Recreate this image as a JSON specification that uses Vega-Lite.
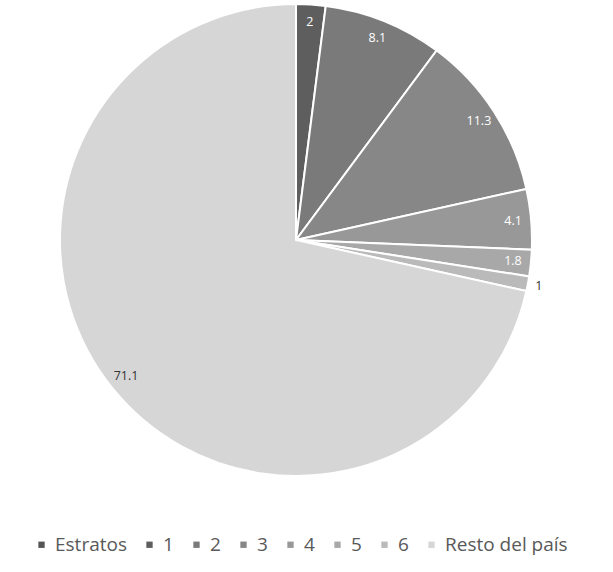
{
  "$schema": "https://vega.github.io/schema/vega-lite/v6.json",
  "autosize": {"type": "pad"},
  "padding": {"left": 0, "top": 0, "right": 0, "bottom": 20},
  "width": 592,
  "height": 478,
  "background": "white",
  "data": {"values": [
    {"cat": "Estratos", "ord": 0, "v": 0, "lab": ""},
    {"cat": "1", "ord": 1, "v": 2, "lab": "2"},
    {"cat": "2", "ord": 2, "v": 8.1, "lab": "8.1"},
    {"cat": "3", "ord": 3, "v": 11.3, "lab": "11.3"},
    {"cat": "4", "ord": 4, "v": 4.1, "lab": "4.1"},
    {"cat": "5", "ord": 5, "v": 1.8, "lab": "1.8"},
    {"cat": "6", "ord": 6, "v": 1, "lab": "1"},
    {"cat": "Resto del país", "ord": 7, "v": 71.1, "lab": "71.1"}
  ]},
  "encoding": {
    "theta": {"field": "v", "type": "quantitative", "stack": true},
    "order": {"field": "ord", "type": "quantitative"}
  },
  "layer": [
    {
      "mark": {"type": "arc", "outerRadius": 236, "stroke": "white", "strokeWidth": 2},
      "encoding": {
        "color": {
          "field": "cat", "type": "nominal",
          "sort": ["Estratos", "1", "2", "3", "4", "5", "6", "Resto del país"],
          "scale": {
            "domain": ["Estratos", "1", "2", "3", "4", "5", "6", "Resto del país"],
            "range": ["#555555", "#5e5e5e", "#7a7a7a", "#878787", "#989898", "#a8a8a8", "#bababa", "#d6d6d6"]
          },
          "legend": {
            "title": null,
            "orient": "none",
            "legendX": 32,
            "legendY": 534,
            "direction": "horizontal",
            "symbolType": "square",
            "symbolSize": 40,
            "symbolStrokeWidth": 0,
            "labelFont": "Open Sans",
            "labelFontSize": 19,
            "labelOffset": 4,
            "labelColor": "#595959",
            "columnPadding": 13,
            "symbolOffset": 0
          }
        }
      }
    },
    {
      "mark": {
        "type": "text",
        "radius": {"expr": "datum.cat == '6' ? 247 : 218"},
        "font": "Open Sans",
        "fontSize": 12.5
      },
      "encoding": {
        "text": {"field": "lab"},
        "color": {
          "condition": {"test": "datum.cat == '6' || datum.cat == 'Resto del país'", "value": "#333333"},
          "value": "white"
        }
      }
    }
  ]
}
